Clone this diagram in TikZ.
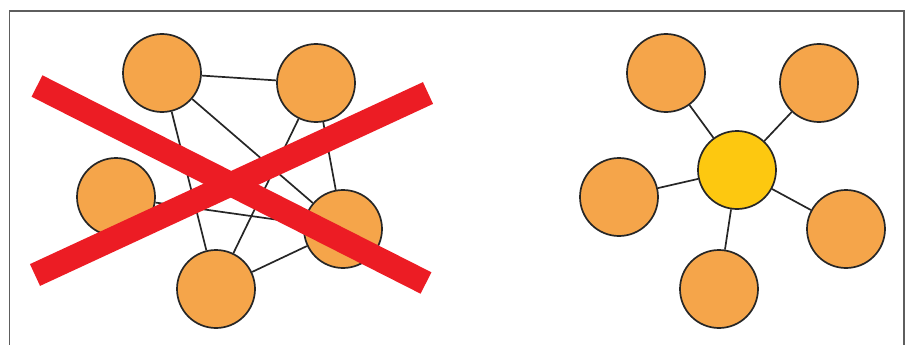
\documentclass[tikz,border=0pt]{standalone}
\usetikzlibrary{backgrounds}
\begin{document}
\begin{tikzpicture}[x=1pt,y=-1pt,
  peer/.style={circle,draw=black!85,line width=1.7pt,fill=peerorange,minimum size=78pt,inner sep=0pt},
  hub/.style={peer,fill=hubyellow},
  link/.style={draw=black!85,line width=1.7pt},
  cross/.style={draw=crossred,line width=24pt,line cap=butt}]
\definecolor{peerorange}{HTML}{F5A54A}
\definecolor{hubyellow}{HTML}{FDC810}
\definecolor{crossred}{HTML}{EC1C24}
\definecolor{framegray}{HTML}{5E5E5E}
\useasboundingbox (0,0) rectangle (905,345);
% frame, open at the bottom
\begin{scope}
\clip (0,0) rectangle (905,345);
\draw[framegray,line width=1.6pt] (9.5,360) -- (9.5,11) -- (904,11) -- (904,360);
\end{scope}

% mesh network
\node[peer] (a) at (162,73) {};
\node[peer] (b) at (316,83) {};
\node[peer] (c) at (116,197) {};
\node[peer] (d) at (343,229) {};
\node[peer] (e) at (216,289) {};
\begin{pgfonlayer}{background}
\path[link] (a) -- (b) (a) -- (d) (a) -- (e) (b) -- (e) (b) -- (d) (c) -- (d) (e) -- (d);
\end{pgfonlayer}

% crossing-out mark
\coordinate (x1s) at (37,86);
\coordinate (x1e) at (426,283);
\coordinate (x2s) at (35,275);
\coordinate (x2e) at (428,93);
\draw[cross] (x1s) -- (x1e);
\draw[cross] (x2s) -- (x2e);

% star network
\node[hub] (h) at (737,170) {};
\node[peer] (s1) at (666,73) {};
\node[peer] (s2) at (819,83) {};
\node[peer] (s3) at (619,197) {};
\node[peer] (s4) at (846,229) {};
\node[peer] (s5) at (719,289) {};
\begin{pgfonlayer}{background}
\path[link] (h) -- (s1) (h) -- (s2) (h) -- (s3) (h) -- (s4) (h) -- (s5);
\end{pgfonlayer}
\end{tikzpicture}
\end{document}
